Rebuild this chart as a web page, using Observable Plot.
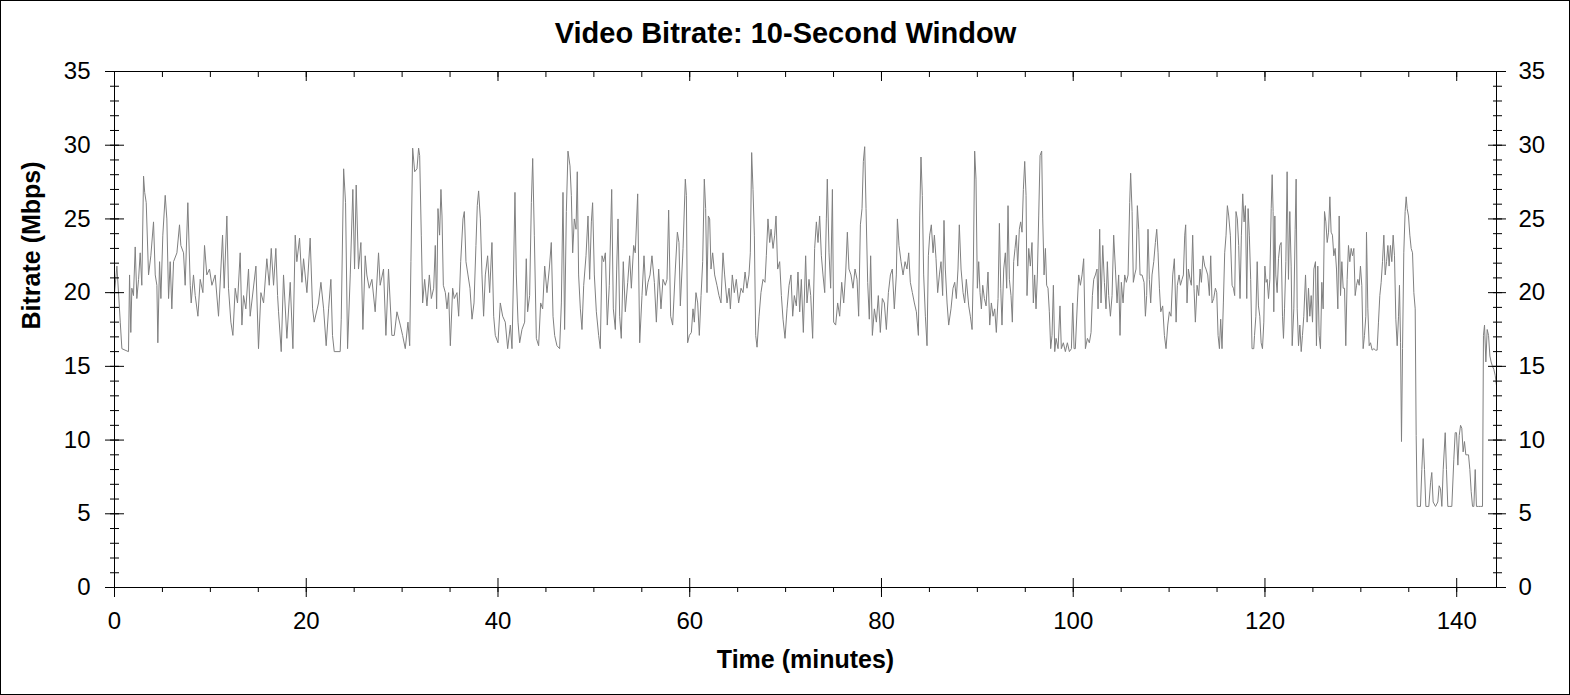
<!DOCTYPE html>
<html>
<head>
<meta charset="utf-8">
<script src="https://cdn.jsdelivr.net/npm/d3@7"></script>
<script src="https://cdn.jsdelivr.net/npm/@observablehq/plot@0.6"></script>
<style>
html, body { margin: 0; padding: 0; background: #fff; }
#chart { width: 1570px; height: 695px; }
#chart svg { display: block; outline: 1px solid #000; outline-offset: -1px; }
</style>
</head>
<body>
<div id="chart"></div>
<script>
const chartTitle = "Video Bitrate: 10-Second Window";
const xLabel = "Time (minutes)";
const yLabel = "Bitrate (Mbps)";
const xMajorTicks = [0, 20, 40, 60, 80, 100, 120, 140];
const xMinorTicks = [0, 5, 10, 15, 20, 25, 30, 35, 40, 45, 50, 55, 60, 65, 70, 75, 80, 85, 90, 95, 100, 105, 110, 115, 120, 125, 130, 135, 140];
const yMajorTicks = [0, 5, 10, 15, 20, 25, 30, 35];
const yMinorTicks = [0, 1, 2, 3, 4, 5, 6, 7, 8, 9, 10, 11, 12, 13, 14, 15, 16, 17, 18, 19, 20, 21, 22, 23, 24, 25, 26, 27, 28, 29, 30, 31, 32, 33, 34, 35];
const xDomain = [0, 144.15];
const yDomain = [0, 35];

// [minute, Mbps] readings, 0–30 min
const part1 = [[0,20.0],[0.25,21.8],[0.42,20.0],[0.6,18.0],[0.77,16.2],[1.1,16.1],[1.46,16.0],[1.57,21.2],[1.70,17.3],[1.81,20.3],[1.98,19.8],[2.16,23.1],[2.33,19.6],[2.51,20.9],[2.68,22.7],[2.85,20.5],[3.03,27.9],[3.15,26.8],[3.31,26.1],[3.55,21.2],[3.79,22.5],[4.07,24.8],[4.25,21.2],[4.42,20.5],[4.52,16.6],[4.70,22.1],[4.84,19.6],[5.04,23.9],[5.29,26.6],[5.46,25.0],[5.64,19.6],[5.81,22.1],[5.98,18.9],[6.16,22.1],[6.51,22.7],[6.78,24.6],[6.92,23.2],[7.20,22.7],[7.37,20.5],[7.65,26.1],[7.90,20.5],[8.00,19.3],[8.24,21.2],[8.42,19.8],[8.70,18.4],[8.94,20.9],[9.22,20.0],[9.39,23.2],[9.63,21.2],[9.91,21.6],[10.16,20.5],[10.50,21.2],[10.85,18.4],[11.27,23.9],[11.44,20.3],[11.72,25.2],[11.89,20.3],[12.14,18.0],[12.35,17.1],[12.59,20.3],[12.83,19.3],[13.11,22.7],[13.29,17.8],[13.46,19.8],[13.70,18.9],[13.98,21.6],[14.15,18.4],[14.75,21.8],[15.02,16.2],[15.27,20.0],[15.55,19.3],[15.89,22.3],[16.14,20.5],[16.35,23.0],[16.59,20.5],[16.83,23.0],[17.01,19.8],[17.11,18.7],[17.39,16.0],[17.63,21.2],[17.98,16.9],[18.33,20.7],[18.61,16.2],[18.85,23.9],[19.02,22.1],[19.30,23.7],[19.55,20.7],[19.72,22.3],[20.07,20.0],[20.41,23.7],[20.66,18.9],[20.83,18.0],[21.28,19.3],[21.53,20.7],[21.81,18.9],[22.08,16.4],[22.33,18.9],[22.57,20.9],[22.74,17.1],[22.92,16.0],[23.54,16.0],[23.65,18.2],[23.90,28.4],[24.10,26.1],[24.31,16.2],[24.59,21.2],[24.86,27.0],[25.04,21.6],[25.21,27.3],[25.45,21.6],[25.70,23.4],[25.91,17.5],[26.15,22.5],[26.32,21.2],[26.57,20.3],[26.85,20.9],[27.19,18.7],[27.54,22.7],[27.71,20.5],[28.06,21.6],[28.31,17.1],[28.58,21.6],[28.93,17.1],[29.18,17.1],[29.46,18.7]];

// 30–59 min
const part2 = [[29.81,17.8],[30.05,17.1],[30.33,16.2],[30.61,18.0],[30.79,16.4],[30.92,22.1],[31.10,29.8],[31.31,28.2],[31.55,28.4],[31.72,29.8],[31.83,29.3],[32.00,23.9],[32.14,19.3],[32.35,20.9],[32.59,19.1],[32.84,21.2],[33.05,19.6],[33.29,20.3],[33.46,23.2],[33.60,18.9],[33.74,25.7],[33.91,23.9],[34.05,27.0],[34.16,25.2],[34.30,20.5],[34.51,20.0],[34.68,18.9],[34.85,20.0],[35.03,16.4],[35.27,20.3],[35.44,19.6],[35.72,20.0],[35.90,18.4],[36.11,22.1],[36.35,25.0],[36.49,25.5],[36.66,22.1],[36.87,21.2],[37.08,20.3],[37.29,18.2],[37.50,19.3],[37.70,23.2],[37.84,25.9],[37.98,26.9],[38.16,25.0],[38.33,21.2],[38.50,18.4],[38.68,21.2],[38.92,22.5],[39.13,20.0],[39.37,23.4],[39.55,18.4],[39.72,17.1],[40.00,16.6],[40.24,19.3],[40.49,18.4],[40.76,18.0],[41.01,16.2],[41.29,17.8],[41.46,16.2],[41.63,21.6],[41.77,26.8],[41.91,21.2],[42.09,18.0],[42.26,16.6],[42.50,17.5],[42.78,18.0],[42.95,22.3],[43.09,18.7],[43.30,19.8],[43.48,26.1],[43.62,29.1],[43.79,23.9],[44.00,16.9],[44.24,16.4],[44.45,19.3],[44.66,18.9],[44.87,21.8],[45.11,20.0],[45.35,21.6],[45.56,23.4],[45.74,18.4],[45.91,17.1],[46.15,16.4],[46.43,16.2],[46.61,19.3],[46.78,26.8],[46.95,17.5],[47.13,25.5],[47.30,29.6],[47.51,28.6],[47.65,26.6],[47.79,22.7],[47.96,25.0],[48.14,24.3],[48.27,28.2],[48.41,21.2],[48.59,18.9],[48.76,17.5],[48.94,20.5],[49.18,22.5],[49.39,25.2],[49.56,20.9],[49.74,24.8],[49.87,26.1],[50.05,21.2],[50.26,18.7],[50.50,17.1],[50.67,16.2],[50.85,22.5],[51.02,22.1],[51.20,22.7],[51.40,17.8],[51.61,20.5],[51.86,27.0],[52.03,18.9],[52.24,17.5],[52.38,21.6],[52.52,25.0],[52.69,18.4],[52.86,16.9],[53.07,22.1],[53.28,18.7],[53.53,20.7],[53.73,22.5],[53.91,20.3],[54.15,23.2],[54.32,22.7],[54.57,26.7],[54.78,16.6],[55.02,19.8],[55.23,22.5],[55.44,19.8],[55.65,20.7],[55.86,21.2],[56.06,22.5],[56.31,20.7],[56.52,18.0],[56.76,21.6],[57.00,18.9],[57.21,20.9],[57.45,20.5],[57.63,20.9],[57.80,25.6],[58.01,18.4],[58.22,17.8],[58.50,21.6],[58.71,24.1],[58.88,23.4],[59.02,19.1],[59.30,23.0]];

// 59–89 min
const part3 = [[59.54,27.7],[59.65,26.6],[59.78,16.6],[59.96,17.1],[60.17,17.3],[60.34,18.9],[60.48,18.0],[60.65,20.0],[60.83,19.3],[61.00,17.1],[61.18,19.8],[61.35,22.1],[61.52,27.7],[61.66,25.7],[61.80,20.0],[61.94,25.2],[62.08,25.0],[62.22,21.6],[62.39,22.7],[62.60,21.2],[62.84,20.5],[63.05,19.8],[63.26,19.3],[63.47,22.7],[63.64,21.2],[63.89,19.3],[64.10,20.3],[64.24,18.9],[64.44,21.2],[64.65,20.0],[64.86,20.9],[65.10,19.3],[65.35,20.3],[65.56,20.0],[65.77,21.4],[65.97,20.3],[66.18,21.2],[66.32,22.7],[66.46,29.5],[66.60,27.0],[66.74,23.9],[66.88,17.1],[67.02,16.3],[67.23,18.4],[67.43,20.0],[67.64,20.9],[67.85,20.7],[67.99,22.5],[68.16,25.0],[68.34,23.4],[68.48,24.3],[68.69,23.0],[68.86,23.9],[69.00,25.2],[69.17,21.6],[69.38,22.1],[69.56,19.8],[69.73,18.2],[69.94,16.9],[70.15,18.9],[70.36,20.5],[70.56,21.2],[70.74,18.4],[70.91,19.8],[71.12,19.1],[71.29,21.4],[71.47,18.7],[71.64,20.9],[71.85,17.3],[72.09,22.5],[72.23,19.3],[72.44,20.9],[72.62,19.8],[72.82,16.9],[73.03,23.0],[73.21,24.8],[73.38,23.4],[73.55,25.2],[73.73,22.5],[73.90,21.2],[74.08,20.0],[74.25,25.0],[74.35,27.7],[74.53,22.7],[74.70,20.3],[74.88,27.0],[75.01,18.0],[75.22,17.8],[75.43,19.3],[75.64,18.4],[75.85,20.7],[76.06,19.3],[76.27,21.4],[76.44,24.1],[76.61,21.6],[76.82,21.2],[77.03,20.3],[77.24,21.6],[77.45,20.9],[77.62,18.4],[77.80,24.6],[77.97,25.7],[78.11,28.9],[78.25,29.9],[78.39,25.7],[78.56,20.7],[78.73,18.2],[78.87,22.5],[79.05,17.1],[79.26,18.9],[79.47,18.0],[79.67,19.8],[79.88,17.3],[80.09,19.6],[80.30,19.3],[80.51,17.5],[80.72,20.0],[80.93,21.2],[81.13,21.6],[81.34,18.9],[81.55,21.2],[81.66,25.0],[81.83,23.2],[82.04,22.1],[82.25,21.2],[82.46,22.1],[82.66,21.6],[82.84,22.7],[83.01,20.7],[83.22,20.0],[83.43,19.3],[83.64,18.7],[83.85,17.1],[83.99,25.2],[84.12,29.2],[84.26,26.6],[84.40,21.2],[84.58,18.4],[84.75,16.4],[84.89,22.5],[85.03,23.9],[85.20,24.6],[85.38,22.7],[85.52,23.9],[85.69,22.3],[85.86,20.0],[86.04,21.2],[86.21,22.1],[86.38,19.8],[86.52,24.9],[86.66,21.6],[86.84,19.3],[87.01,17.8],[87.25,18.9],[87.46,20.3],[87.64,20.7],[87.81,19.6],[87.98,21.6],[88.12,24.6],[88.30,21.6],[88.51,20.0],[88.68,19.3],[88.85,20.9]];

// 89–119 min
const part4 = [[89.10,19.1],[89.27,18.4],[89.45,17.5],[89.58,21.6],[89.72,29.6],[89.86,27.7],[90.00,20.3],[90.14,22.1],[90.28,20.0],[90.42,18.9],[90.56,20.5],[90.73,19.6],[90.91,19.1],[91.11,21.4],[91.29,17.8],[91.46,19.3],[91.64,18.4],[91.81,18.9],[91.98,17.3],[92.16,19.6],[92.30,24.7],[92.44,20.3],[92.57,17.8],[92.75,21.6],[92.92,22.7],[93.06,20.3],[93.20,25.9],[93.34,20.9],[93.51,19.8],[93.65,18.0],[93.79,22.1],[93.93,23.0],[94.07,23.9],[94.21,21.8],[94.38,24.3],[94.52,24.8],[94.66,24.1],[94.80,27.0],[94.94,28.9],[95.08,26.6],[95.18,19.8],[95.36,23.0],[95.53,21.8],[95.70,23.4],[95.84,19.3],[95.98,21.2],[96.12,18.9],[96.26,21.2],[96.40,25.2],[96.54,29.3],[96.71,29.6],[96.82,25.0],[96.96,21.2],[97.10,23.0],[97.23,20.5],[97.37,20.3],[97.51,18.7],[97.65,16.2],[97.79,17.1],[97.93,20.5],[98.07,16.0],[98.21,16.9],[98.42,16.2],[98.62,19.1],[98.76,16.2],[98.97,16.6],[99.18,16.0],[99.39,16.6],[99.60,16.0],[99.81,16.2],[99.95,19.3],[100.09,16.2],[100.22,16.2],[100.43,19.3],[100.57,21.2],[100.75,20.5],[100.92,21.2],[101.09,22.3],[101.27,16.2],[101.48,16.9],[101.68,16.6],[101.86,17.3],[102.00,19.8],[102.14,20.9],[102.31,21.2],[102.48,21.6],[102.59,18.9],[102.76,24.3],[102.90,19.3],[103.08,23.2],[103.25,20.7],[103.42,18.9],[103.56,22.1],[103.70,19.8],[103.88,18.4],[104.05,19.8],[104.22,23.9],[104.40,21.6],[104.57,19.3],[104.74,21.2],[104.88,17.1],[105.02,20.7],[105.20,19.3],[105.37,21.2],[105.54,20.7],[105.72,21.2],[105.89,26.1],[105.99,28.1],[106.14,25.5],[106.27,20.7],[106.41,21.2],[106.55,21.6],[106.69,25.9],[106.83,24.3],[106.97,21.2],[107.18,21.2],[107.39,20.7],[107.53,18.4],[107.66,19.8],[107.80,24.3],[107.94,20.9],[108.08,19.3],[108.22,21.2],[108.40,22.1],[108.57,23.4],[108.71,24.3],[108.85,22.7],[108.99,20.3],[109.13,18.7],[109.33,19.1],[109.51,17.1],[109.68,16.2],[109.86,17.8],[110.03,18.7],[110.20,18.4],[110.38,21.2],[110.55,22.3],[110.73,18.0],[110.86,20.5],[111.04,21.2],[111.18,20.5],[111.35,20.9],[111.49,21.2],[111.63,23.9],[111.73,24.6],[111.87,19.3],[112.01,21.6],[112.19,20.9],[112.32,20.5],[112.46,23.9],[112.60,20.3],[112.74,18.0],[112.92,20.5],[113.09,19.8],[113.23,21.6],[113.37,20.7],[113.54,22.5],[113.72,21.8],[113.85,21.6],[114.03,21.2],[114.20,19.8],[114.34,22.5],[114.48,19.3],[114.65,19.6],[114.83,20.3],[114.97,20.0],[115.11,17.1],[115.25,16.2],[115.38,18.2],[115.52,16.2],[115.66,19.3],[115.80,22.7],[115.94,23.9],[116.08,25.9],[116.22,25.2],[116.39,23.9],[116.57,20.5],[116.71,20.3],[116.84,19.8],[116.98,25.5],[117.12,25.0],[117.26,23.2],[117.40,19.6],[117.54,23.9],[117.68,26.7],[117.82,24.8],[117.96,25.9],[118.10,19.6],[118.24,25.7],[118.37,23.9],[118.51,20.9],[118.65,16.2],[118.83,16.2]];

// 119–144 min
const part5 = [[118.91,17.1],[119.05,18.4],[119.19,22.1],[119.32,19.1],[119.46,18.4],[119.60,16.6],[119.74,16.2],[119.88,18.0],[119.99,21.8],[120.12,20.7],[120.23,20.9],[120.37,19.6],[120.51,20.9],[120.65,25.7],[120.75,28.0],[120.85,25.5],[120.92,18.7],[121.03,25.2],[121.13,21.2],[121.27,20.0],[121.41,22.3],[121.55,23.2],[121.69,23.4],[121.83,18.4],[121.93,16.9],[122.04,18.9],[122.18,22.1],[122.31,28.2],[122.45,20.9],[122.59,25.5],[122.73,21.8],[122.84,16.4],[123.01,18.9],[123.15,24.3],[123.25,27.7],[123.36,18.9],[123.50,16.4],[123.64,17.8],[123.78,16.0],[123.91,17.1],[124.05,18.4],[124.23,21.2],[124.40,18.0],[124.54,20.3],[124.68,18.4],[124.82,19.8],[124.96,18.0],[125.10,21.6],[125.27,22.1],[125.37,16.4],[125.51,21.8],[125.65,17.1],[125.79,16.2],[125.93,20.7],[126.07,18.9],[126.21,25.5],[126.35,24.8],[126.49,23.4],[126.63,24.1],[126.77,26.5],[126.90,24.1],[127.04,23.9],[127.18,22.5],[127.32,23.0],[127.46,21.6],[127.60,18.9],[127.74,25.2],[127.88,19.8],[128.02,22.1],[128.16,20.3],[128.30,20.3],[128.43,16.4],[128.57,20.9],[128.71,23.2],[128.85,22.1],[128.99,23.0],[129.13,22.5],[129.27,23.0],[129.41,19.8],[129.55,20.5],[129.69,20.9],[129.83,20.5],[129.96,21.8],[130.10,20.5],[130.24,16.2],[130.38,17.1],[130.52,18.4],[130.59,24.1],[130.73,18.9],[130.87,16.4],[131.01,16.6],[131.18,16.1],[131.36,16.2],[131.53,16.1],[131.70,16.1],[131.84,18.0],[131.98,19.8],[132.12,20.7],[132.26,22.1],[132.40,23.9],[132.54,21.2],[132.68,22.1],[132.82,23.2],[132.95,21.8],[133.09,23.2],[133.23,22.1],[133.37,23.9],[133.51,22.5],[133.65,18.2],[133.79,16.4],[133.93,18.4],[134.03,20.5],[134.14,16.6],[134.24,9.9],[134.35,16.2],[134.48,22.7],[134.62,25.5],[134.73,26.5],[134.83,25.7],[134.97,25.2],[135.11,23.9],[135.25,23.0],[135.39,22.7],[135.53,20.0],[135.67,18.9],[135.77,10.3],[135.88,5.5],[136.05,5.5],[136.22,5.5],[136.36,8.0],[136.50,10.1],[136.64,8.0],[136.78,5.5],[137.09,5.5],[137.27,7.1],[137.40,7.8],[137.54,5.8],[137.79,5.5],[138.03,5.8],[138.17,6.9],[138.31,6.7],[138.45,5.5],[138.59,8.0],[138.80,10.5],[138.93,8.0],[139.07,5.5],[139.28,5.5],[139.49,5.5],[139.70,8.7],[139.84,10.5],[139.98,10.5],[140.12,8.3],[140.26,10.3],[140.40,11.0],[140.53,10.8],[140.67,9.2],[140.81,9.9],[140.95,9.0],[141.09,9.0],[141.23,9.0],[141.37,8.0],[141.51,6.5],[141.65,5.5],[141.79,5.5],[141.93,8.0],[142.06,5.5],[142.27,5.5],[142.48,5.5],[142.69,5.5],[142.79,17.1],[142.90,17.8],[143.04,15.3],[143.18,17.5],[143.32,17.1],[143.46,15.7],[143.59,15.3],[143.73,15.0],[143.87,14.8],[144.01,14.4],[144.15,13.7]];

const samples = [...part1, ...part2, ...part3, ...part4, ...part5].map(([minute, mbps]) => ({minute, mbps}));

const font = '"Liberation Sans", Arial, Helvetica, sans-serif';

const chart = Plot.plot({
  width: 1570,
  height: 695,
  marginLeft: 114,
  marginRight: 74,
  marginTop: 71,
  marginBottom: 108,
  style: {fontFamily: font, fontSize: "24px", color: "#000", background: "#fff", overflow: "visible"},
  x: {domain: xDomain},
  y: {domain: yDomain},
  marks: [
    Plot.line(samples, {x: "minute", y: "mbps", stroke: "#808080", strokeWidth: 1}),
    Plot.frame({stroke: "#000"}),
    // left ticks
    Plot.axisY(yMinorTicks, {anchor: "left", tickSize: 9, dx: 5, fill: "none", tickFormat: () => "", label: null}),
    Plot.axisY(yMajorTicks, {anchor: "left", tickSize: 19, dx: 10, fill: "none", tickFormat: () => "", label: null}),
    Plot.axisY(yMajorTicks, {anchor: "left", tickSize: 0, tickPadding: 24, label: null}),
    // right ticks
    Plot.axisY(yMinorTicks, {anchor: "right", tickSize: 9, dx: -4, fill: "none", tickFormat: () => "", label: null}),
    Plot.axisY(yMajorTicks, {anchor: "right", tickSize: 18, dx: -9, fill: "none", tickFormat: () => "", label: null}),
    Plot.axisY(yMajorTicks, {anchor: "right", tickSize: 0, tickPadding: 22, label: null}),
    // bottom ticks
    Plot.axisX(xMinorTicks, {anchor: "bottom", tickSize: 5, fill: "none", tickFormat: () => "", label: null}),
    Plot.axisX(xMajorTicks, {anchor: "bottom", tickSize: 19, dy: -9, fill: "none", tickFormat: () => "", label: null}),
    Plot.axisX(xMajorTicks, {anchor: "bottom", tickSize: 0, tickPadding: 24, label: null}),
    // top ticks (pointing inward)
    Plot.axisX(xMinorTicks, {anchor: "top", tickSize: 5, dy: 5, fill: "none", tickFormat: () => "", label: null}),
    Plot.axisX(xMajorTicks, {anchor: "top", tickSize: 9, dy: 9, fill: "none", tickFormat: () => "", label: null}),
    // titles
    Plot.text([chartTitle], {frameAnchor: "top", lineAnchor: "middle", dx: -20, dy: -38, fontSize: 29, fontWeight: "bold", fill: "#000"}),
    Plot.text([xLabel], {frameAnchor: "bottom", lineAnchor: "middle", dy: 72, fontSize: 25, fontWeight: "bold", fill: "#000"}),
    Plot.text([yLabel], {frameAnchor: "left", lineAnchor: "middle", dx: -83, rotate: -90, fontSize: 25, fontWeight: "bold", fill: "#000"})
  ]
});

document.getElementById("chart").appendChild(chart);
</script>
</body>
</html>
